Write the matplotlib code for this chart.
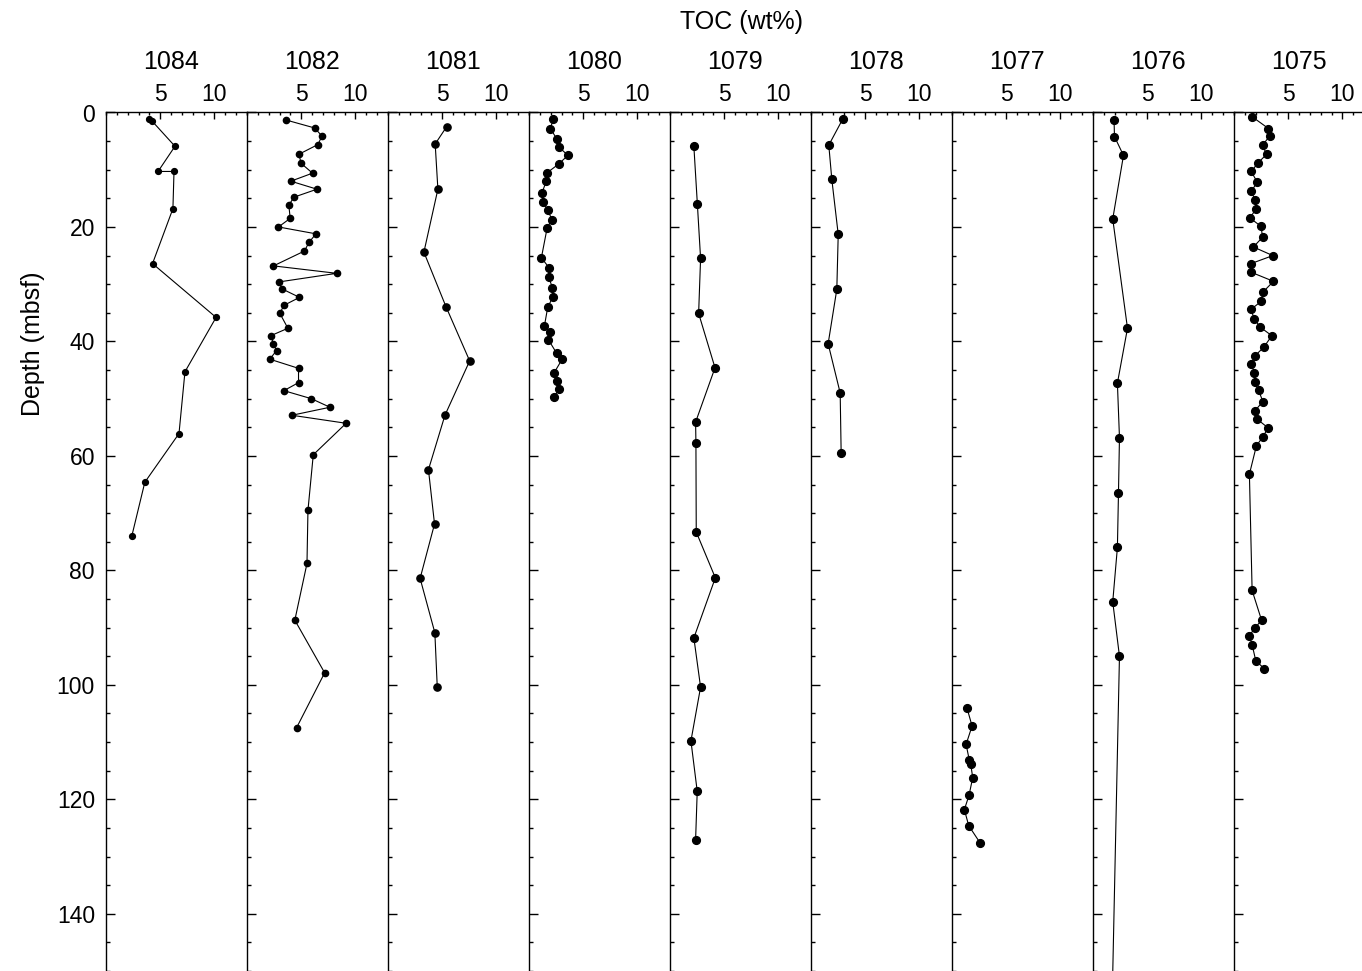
import matplotlib
matplotlib.use('Agg')
import matplotlib.pyplot as plt
import matplotlib.transforms as mtransforms
from matplotlib.ticker import MultipleLocator

plt.rcParams['font.family'] = ['Liberation Sans', 'DejaVu Sans']

# TOC (wt%) against depth (mbsf), one column per site
sites = ['1084', '1082', '1081', '1080', '1079', '1078', '1077', '1076', '1075']

depth_1084 = [1.2, 1.4, 5.9, 10.3, 10.3, 16.8, 26.4, 35.8, 45.3, 56.1, 64.6, 74.0]
toc_1084 = [4.0, 4.2, 6.36, 4.8, 6.27, 6.17, 4.29, 10.15, 7.28, 6.73, 3.58, 2.38]

depth_1082 = [1.3, 2.7, 4.1, 5.6, 7.3, 8.9, 10.6, 12.0, 13.4, 14.8, 16.2, 18.5, 20.0,
              21.2, 22.7, 24.2, 26.8, 28.1, 29.6, 30.8, 32.3, 33.7, 35.1, 37.7, 39.0,
              40.4, 41.6, 43.1, 44.7, 47.2, 48.6, 50.0, 51.5, 52.9, 54.3, 59.8, 69.5,
              78.8, 88.7, 97.9, 107.5]
toc_1082 = [3.58, 6.23, 6.91, 6.54, 4.78, 5.0, 6.04, 4.04, 6.45, 4.32, 3.86, 3.98, 2.9,
            6.36, 5.71, 5.3, 2.44, 8.27, 2.96, 3.21, 4.84, 3.4, 3.03, 3.77, 2.19,
            2.44, 2.72, 2.1, 4.75, 4.75, 3.4, 5.93, 7.65, 4.14, 9.14, 6.11, 5.62,
            5.53, 4.41, 7.16, 4.57]

depth_1081 = [2.5, 5.5, 13.4, 24.4, 33.9, 43.4, 52.9, 62.4, 71.9, 81.4, 90.9, 100.3]
toc_1081 = [5.4, 4.35, 4.6, 3.31, 5.34, 7.53, 5.25, 3.73, 4.29, 2.96, 4.32, 4.54]

depth_1080 = [1.1, 2.8, 4.6, 6.1, 7.5, 9.0, 10.5, 12.0, 14.0, 15.6, 17.0, 18.7, 20.2,
              25.4, 27.1, 28.8, 30.6, 32.3, 34.0, 37.3, 38.4, 39.7, 42.1, 43.1, 45.5,
              46.9, 48.3, 49.7]
toc_1080 = [2.25, 1.97, 2.56, 2.81, 3.58, 2.74, 1.69, 1.6, 1.2, 1.26, 1.73, 2.1, 1.67,
            1.14, 1.85, 1.82, 2.16, 2.19, 1.73, 1.42, 1.97, 1.79, 2.56, 3.06, 2.31,
            2.59, 2.81, 2.29]

depth_1079 = [5.9, 15.9, 25.5, 35.1, 44.6, 54.1, 57.7, 73.3, 81.3, 91.8, 100.4, 109.8,
              118.6, 127.1]
toc_1079 = [2.2, 2.52, 2.82, 2.64, 4.15, 2.36, 2.39, 2.42, 4.18, 2.2, 2.82, 1.93,
            2.51, 2.36]

depth_1078 = [1.1, 5.7, 11.7, 21.3, 30.9, 40.4, 49.0, 59.5]
toc_1078 = [2.94, 1.64, 1.92, 2.51, 2.38, 1.58, 2.69, 2.78]

depth_1077 = [104.1, 107.2, 110.4, 113.2, 113.9, 116.2, 119.3, 121.8, 124.6, 127.7]
toc_1077 = [1.39, 1.85, 1.3, 1.6, 1.73, 1.91, 1.57, 1.14, 1.54, 2.62]

depth_1076 = [1.25, 4.2, 7.5, 18.6, 37.7, 47.3, 56.8, 66.4, 76.0, 85.5, 95.0, 170.0]
toc_1076 = [1.94, 1.98, 2.81, 1.82, 3.18, 2.25, 2.44, 2.35, 2.25, 1.82, 2.44, 1.6]

depth_1075 = [0.7, 2.8, 4.1, 5.7, 7.3, 8.8, 10.3, 12.2, 13.8, 15.3, 16.9, 18.4, 19.9,
              21.8, 23.5, 25.0, 26.4, 27.9, 29.5, 31.4, 33.0, 34.4, 36.0, 37.5, 39.0,
              41.0, 42.5, 44.0, 45.5, 47.1, 48.5, 50.5, 52.1, 53.6, 55.1, 56.7, 58.2,
              63.2, 83.5, 88.7, 90.1, 91.4, 93.0, 95.8, 97.2]
toc_1075 = [1.64, 3.18, 3.3, 2.63, 3.0, 2.22, 1.59, 2.15, 1.57, 1.98, 2.04, 1.45, 2.5,
            2.63, 1.79, 3.58, 1.57, 1.57, 3.64, 2.66, 2.5, 1.57, 1.85, 2.41, 3.49,
            2.75, 1.94, 1.61, 1.89, 1.92, 2.26, 2.66, 1.94, 2.15, 3.14, 2.66, 2.07,
            1.42, 1.67, 2.54, 1.92, 1.42, 1.67, 2.01, 2.81]

depths = [depth_1084, depth_1082, depth_1081, depth_1080, depth_1079,
          depth_1078, depth_1077, depth_1076, depth_1075]
tocs = [toc_1084, toc_1082, toc_1081, toc_1080, toc_1079,
        toc_1078, toc_1077, toc_1076, toc_1075]
marker_sizes = [4.2, 4.5, 5.2, 5.6, 5.6, 5.6, 5.6, 5.6, 5.6]

W, H = 1362, 971
fig = plt.figure(figsize=(W / 100, H / 100), dpi=100)

left0 = 106
pw = 141
top = 112.5

for i in range(len(sites)):
    ax = fig.add_axes([(left0 + i * pw) / W, 0, pw / W, (H - top) / H])
    ax.plot(tocs[i], depths[i], '-o', color='k', lw=0.8, ms=marker_sizes[i])
    ax.set_xlim(0, 13)
    ax.set_ylim(150, 0)

    ax.xaxis.tick_top()
    ax.set_xticks([5, 10])
    ax.xaxis.set_minor_locator(MultipleLocator(1))
    ax.yaxis.set_major_locator(MultipleLocator(20))
    ax.yaxis.set_minor_locator(MultipleLocator(5))

    ax.tick_params(axis='x', which='major', direction='in', length=4.8, width=1,
                   labelsize=16.5, pad=5)
    ax.tick_params(axis='x', which='minor', direction='in', length=2.4, width=1)
    ax.tick_params(axis='y', which='major', direction='in', length=6.5, width=1,
                   labelsize=16.5, pad=8, labelleft=(i == 0))
    ax.tick_params(axis='y', which='minor', direction='in', length=2.9, width=1)

    for s in ['right', 'bottom']:
        ax.spines[s].set_visible(False)
    for s in ['left', 'top']:
        ax.spines[s].set_linewidth(1)

    # site name sits above the tick labels
    trans = mtransforms.blended_transform_factory(ax.transData, fig.transFigure)
    ax.text(6, 1 - 62 / H, sites[i], transform=trans, ha='center', va='center',
            fontsize=18)

fig.text(741 / W, 1 - 22 / H, 'TOC (wt%)', ha='center', va='center', fontsize=18)
fig.text(33 / W, 1 - 344 / H, 'Depth (mbsf)', rotation=90, ha='center', va='center',
         fontsize=18)

fig.savefig('out.png', dpi=100)
